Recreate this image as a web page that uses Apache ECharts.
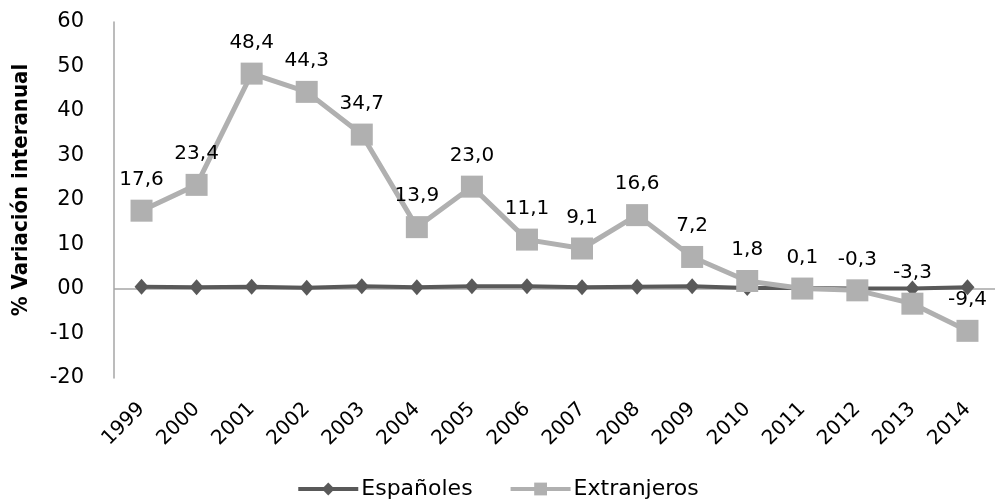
<!DOCTYPE html>
<html>
<head>
<meta charset="utf-8">
<script src="https://cdn.jsdelivr.net/npm/echarts@6/dist/echarts.min.js"></script>
<style>
  html, body { margin: 0; padding: 0; background: #fff; }
  #chart { width: 995px; height: 499px; }
</style>
</head>
<body>
<div id="chart"></div>
<script>
const years = ['1999', '2000', '2001', '2002', '2003', '2004', '2005', '2006',
  '2007', '2008', '2009', '2010', '2011', '2012', '2013', '2014'];
const espanoles = [0.5, 0.4, 0.5, 0.3, 0.6, 0.4, 0.6, 0.6, 0.4, 0.5, 0.6, 0.2, 0.2, 0.1, 0.1, 0.4];
const extranjeros = [17.6, 23.4, 48.4, 44.3, 34.7, 13.9, 23.0, 11.1, 9.1, 16.6, 7.2, 1.8, 0.1, -0.3, -3.3, -9.4];
const yTicks = { min: -20, max: 60, step: 10 };

const chart = echarts.init(document.getElementById('chart'));
const font = 'DejaVu Sans';

chart.setOption({
  animation: false,
  grid: { left: 114, right: 0, top: 22, bottom: 121 },
  legend: {
    top: 473,
    left: 'center',
    itemWidth: 60,
    itemHeight: 16,
    itemGap: 36,
    lineStyle: { width: 4 },
    textStyle: { fontFamily: font, fontSize: 22, color: '#000', padding: [0, 0, 0, -2] },
    data: ['Españoles', 'Extranjeros']
  },
  xAxis: {
    type: 'category',
    data: years,
    axisLine: { show: false, onZero: false },
    axisTick: { show: false },
    axisLabel: {
      rotate: 45,
      margin: 28,
      interval: 0,
      fontFamily: font,
      fontSize: 20,
      color: '#000'
    }
  },
  yAxis: {
    type: 'value',
    min: yTicks.min,
    max: yTicks.max,
    interval: yTicks.step,
    name: '% Variación interanual',
    nameLocation: 'middle',
    nameGap: 82,
    nameTextStyle: {
      fontFamily: 'DejaVu Sans Condensed',
      fontWeight: 'bold',
      fontSize: 22,
      color: '#000',
      padding: [0, 0, 0, 20]
    },
    axisLine: { show: true, lineStyle: { color: '#a6a6a6', width: 1.5 } },
    axisTick: { show: false },
    splitLine: { show: false },
    axisLabel: {
      margin: 30,
      fontFamily: font,
      fontSize: 21,
      color: '#000',
      formatter: v => (v === 0 ? '00' : String(v))
    }
  },
  series: [
    {
      name: 'Españoles',
      type: 'line',
      data: espanoles,
      symbol: 'diamond',
      symbolSize: [14, 16],
      z: 2,
      lineStyle: { color: '#595959', width: 4 },
      itemStyle: { color: '#595959' },
      markLine: {
        silent: true,
        symbol: 'none',
        label: { show: false },
        lineStyle: { color: '#a6a6a6', width: 1.5, type: 'solid' },
        data: [{ yAxis: 0 }],
        z: 1
      }
    },
    {
      name: 'Extranjeros',
      type: 'line',
      data: extranjeros,
      symbol: 'rect',
      symbolSize: 22,
      z: 3,
      lineStyle: { color: '#b0b0b0', width: 5 },
      itemStyle: { color: '#b0b0b0' },
      label: {
        show: true,
        position: 'top',
        distance: 10,
        fontFamily: font,
        fontSize: 20,
        color: '#000',
        formatter: p => p.value.toFixed(1).replace('.', ',')
      }
    }
  ]
});
</script>
</body>
</html>
